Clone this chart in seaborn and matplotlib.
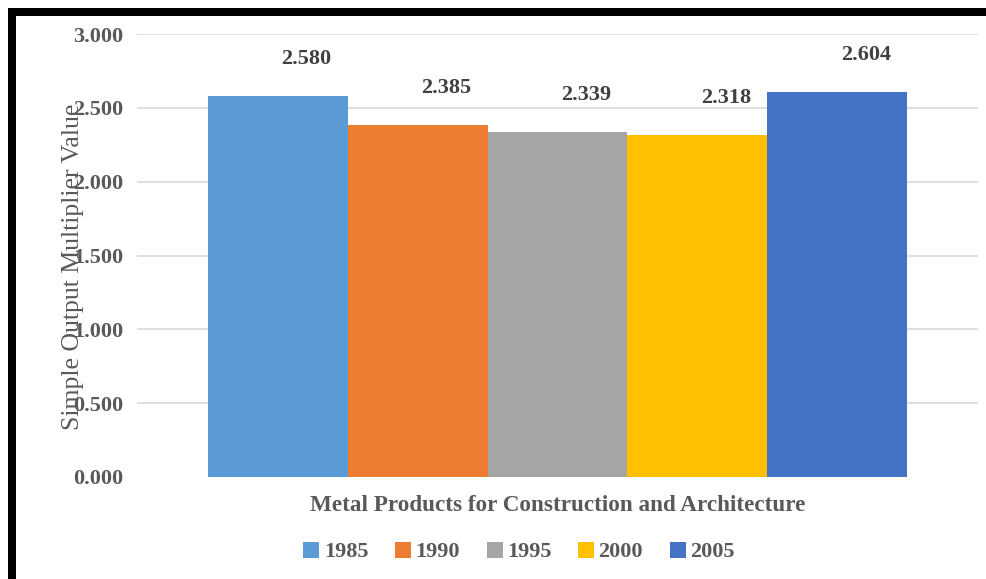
import matplotlib
matplotlib.use("Agg")
import matplotlib.pyplot as plt
from matplotlib.patches import Rectangle, Patch
import pandas as pd
import seaborn as sns

# Data
category = "Metal Products for Construction and Architecture"
years = ["1985", "1990", "1995", "2000", "2005"]
multipliers = [2.580, 2.385, 2.339, 2.318, 2.604]
colors = ["#5B9BD5", "#ED7D31", "#A5A5A5", "#FFC000", "#4472C4"]
y_ticks = [0.0, 0.5, 1.0, 1.5, 2.0, 2.5, 3.0]

df = pd.DataFrame({
    "sector": [category] * len(years),
    "year": years,
    "value": multipliers,
})

sns.set_theme(style="white")
plt.rcParams["font.family"] = ["Liberation Serif", "DejaVu Serif"]

W, H = 987, 579
fig = plt.figure(figsize=(W / 100, H / 100), dpi=100)
ax = fig.add_axes([137 / W, 1 - 477 / H, (978 - 137) / W, (477 - 34) / H])

sns.barplot(data=df, x="sector", y="value", hue="year", hue_order=years,
            palette=colors, width=0.8, saturation=1, errorbar=None,
            edgecolor="none", ax=ax)

ax.set_xlim(-0.4806, 0.4806)
ax.set_ylim(0, 3.0)
ax.set_yticks(y_ticks)
ax.set_yticklabels([f"{t:.3f}" for t in y_ticks])
ax.yaxis.grid(True, color="#D9D9D9", linewidth=1.2)
ax.set_axisbelow(True)
for s in ax.spines.values():
    s.set_visible(False)

ax.tick_params(axis="y", length=0, pad=10, labelsize=16, labelcolor="#595959")
ax.tick_params(axis="x", length=0, pad=13, labelsize=16.7, labelcolor="#595959")
for lab in ax.get_yticklabels() + ax.get_xticklabels():
    lab.set_fontweight("bold")
ax.set_xlabel("")
ax.set_ylabel("")

# hide the zero gridline
ax.get_ygridlines()[0].set_visible(False)

# Value labels above each bar
for container, val in zip(ax.containers, multipliers):
    bar = container.patches[0]
    cx = bar.get_x() + bar.get_width() / 2
    ax.annotate(f"{val:.3f}", xy=(cx, bar.get_height()),
                xytext=(29, 37), textcoords="offset pixels",
                ha="center", va="center", fontsize=16, fontweight="bold",
                color="#404040")

# Legend
if ax.get_legend() is not None:
    ax.get_legend().remove()
handles = [Patch(facecolor=c, edgecolor="none") for c in colors]
fig.legend(handles, years, loc="center", bbox_to_anchor=(519 / W, 1 - 552 / H),
           ncol=5, frameon=False, handlelength=0.72,
           handleheight=0.72, handletextpad=0.2, columnspacing=1.2,
           labelcolor="#595959", prop={"size": 16, "weight": "bold"})

# Y axis title
fig.text(73.5 / W, 1 - 267 / H, "Simple Output Multiplier Value", rotation=90,
         ha="center", va="center", fontsize=18.5, color="#595959")

# Frame edges
fig.add_artist(Rectangle((8 / W, 0), 8 / W, 1 - 8 / H, transform=fig.transFigure,
                         facecolor="black", edgecolor="none"))
fig.add_artist(Rectangle((8 / W, 1 - 16 / H), 1 - 8 / W, 8 / H,
                         transform=fig.transFigure, facecolor="black",
                         edgecolor="none"))

fig.savefig("out.png", dpi=100)
